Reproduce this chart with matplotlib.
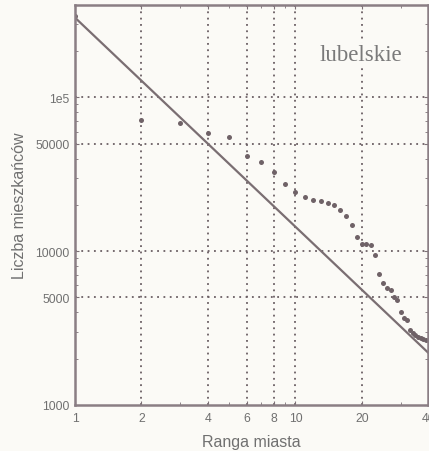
import numpy as np
import matplotlib
matplotlib.use("Agg")
import matplotlib.pyplot as plt
from matplotlib.ticker import FixedLocator, FixedFormatter, LogLocator, NullFormatter

plt.rcParams['font.family'] = ['Liberation Sans', 'DejaVu Sans']

# ranga miasta i liczba mieszkancow
ranga = list(range(1, 40))
ludnosc = [340000, 71500, 68400, 58400, 55000, 41300, 38300, 32800, 27300, 24300,
           22500, 21400, 21100, 20600, 19900, 18600, 16900, 14900, 12400, 11200,
           11050, 11000, 9450, 7100, 6240, 5740, 5590, 5060, 4800, 4040,
           3700, 3550, 3050, 2950, 2870, 2780, 2720, 2680, 2640]

# prosta dopasowania  N = A * r^(-b)
A = 3.3e5
b = 1.36

xticks = [1, 2, 4, 6, 8, 10, 20, 40]
xticklabels = ["1", "2", "4", "6", "8", "10", "20", "40"]
yticks = [1000, 5000, 10000, 50000, 100000]
yticklabels = ["1000", "5000", "10000", "50000", "1e5"]

kolor = "#7c7076"
bg = "#fbfaf6"

fig = plt.figure(figsize=(4.29, 4.52), dpi=100, facecolor=bg)
ax = fig.add_axes([0.175, 0.102, 0.823, 0.885])
ax.set_facecolor(bg)

r = np.array([1, 40])
ax.plot(r, A * r ** (-b), color="#7a6e72", lw=1.6)
ax.plot(ranga, ludnosc, "o", color="#6f6267", ms=3.6, mew=0)

ax.set_xscale("log")
ax.set_yscale("log")
ax.set_xlim(1, 40)
ax.set_ylim(1000, 4e5)

ax.xaxis.set_major_locator(FixedLocator(xticks))
ax.xaxis.set_major_formatter(FixedFormatter(xticklabels))
ax.xaxis.set_minor_locator(LogLocator(subs=np.arange(2, 10)))
ax.xaxis.set_minor_formatter(NullFormatter())
ax.yaxis.set_major_locator(FixedLocator(yticks))
ax.yaxis.set_major_formatter(FixedFormatter(yticklabels))
ax.yaxis.set_minor_formatter(NullFormatter())

for x in [2, 4, 6, 8, 10, 20]:
    ax.axvline(x, color="#6a5e63", lw=1.3, ls=(0, (1, 2.5)), zorder=0)
for y in [5000, 10000, 50000, 100000]:
    ax.axhline(y, color="#6a5e63", lw=1.3, ls=(0, (1, 2.5)), zorder=0)

ax.tick_params(which="both", direction="in", top=True, right=True,
               colors=kolor, labelcolor="#707070", labelsize=8.8)
ax.tick_params(which="major", length=3)
ax.tick_params(which="minor", length=2)
ax.tick_params(axis="x", pad=5)
ax.tick_params(axis="y", pad=4)

for s in ax.spines.values():
    s.set_color("#8a7e84")
    s.set_linewidth(1.8)

ax.set_xlabel("Ranga miasta", color="#707070", fontsize=11.5, labelpad=7)
ax.set_ylabel("Liczba mieszkańców", color="#707070", fontsize=11.5, labelpad=6)

ax.text(19.7, 1.9e5, "lubelskie", family=["Liberation Serif"], fontsize=16.5,
        color="#7a7a7a", ha="center", va="center",
        bbox=dict(facecolor=bg, edgecolor="none", pad=1))

fig.savefig("out.png", dpi=100, facecolor=bg)
